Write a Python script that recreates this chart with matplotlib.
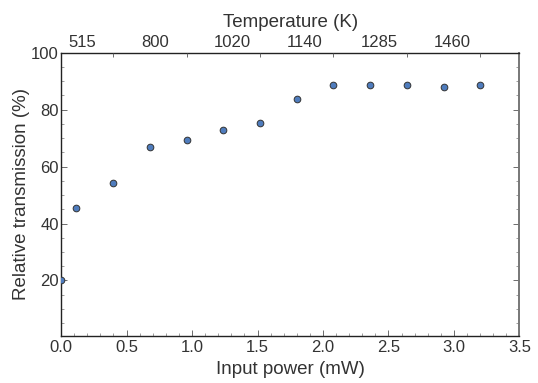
import matplotlib
matplotlib.use("Agg")
import matplotlib.pyplot as plt
from matplotlib.ticker import MultipleLocator, FixedLocator, NullFormatter

plt.rcParams['font.family'] = ['Liberation Sans', 'DejaVu Sans']

# Data
power_mw = [0.0, 0.115, 0.40, 0.68, 0.96, 1.24, 1.52, 1.80, 2.08, 2.36, 2.64, 2.92, 3.20]
transmission = [20.0, 45.4, 54.4, 67.0, 69.2, 73.0, 75.4, 83.8, 88.6, 88.7, 88.6, 88.1, 88.6]

temp_labels = ['515', '800', '1020', '1140', '1285', '1460']
temp_label_pos = [0.16, 0.72, 1.31, 1.86, 2.43, 2.99]
temp_tick_pos = [0.40, 0.96, 1.52, 2.08, 2.64, 3.20]

y_ticks = [20, 40, 60, 80, 100]
x_ticks = [0.0, 0.5, 1.0, 1.5, 2.0, 2.5, 3.0, 3.5]

txt = '#333333'
fig = plt.figure(figsize=(5.38, 3.83), dpi=100)
ax = fig.add_axes([0.1134, 0.1227, 0.8522, 0.7397])

ax.plot(power_mw, transmission, linestyle='none', marker='o', markersize=4.8,
        markerfacecolor='#4f7cbd', markeredgecolor='#333333', markeredgewidth=0.7,
        clip_on=True, zorder=3)

ax.set_xlim(0, 3.5)
ax.set_ylim(0.5, 100)
ax.set_xticks(x_ticks)
ax.set_xticklabels([f'{v:.1f}' for v in x_ticks])
ax.set_yticks(y_ticks)
ax.set_yticklabels([str(v) for v in y_ticks])
ax.xaxis.set_minor_locator(MultipleLocator(0.1))
ax.yaxis.set_minor_locator(MultipleLocator(5))
ax.tick_params(axis='both', which='major', direction='in', length=4, width=0.6,
               color='#555555', labelsize=12, labelcolor=txt, right=True)
ax.tick_params(axis='x', which='major', pad=3)
ax.tick_params(axis='y', which='major', pad=1.5)
ax.tick_params(axis='both', which='minor', direction='in', length=2, width=0.5,
               color='#777777', right=True)

for side in ['left', 'bottom', 'top']:
    ax.spines[side].set_color('#222222')
    ax.spines[side].set_linewidth(1.0)
ax.spines['right'].set_color('#777777')
ax.spines['right'].set_linewidth(1.4)

ax.set_xlabel('Input power (mW)', fontsize=13.5, color=txt, labelpad=4)
ax.set_ylabel('Relative transmission (%)', fontsize=13.5, color=txt, labelpad=1)

top = ax.twiny()
top.set_xlim(ax.get_xlim())
top.xaxis.set_major_locator(FixedLocator(temp_label_pos))
top.set_xticklabels(temp_labels)
top.xaxis.set_minor_locator(FixedLocator(temp_tick_pos))
top.xaxis.set_minor_formatter(NullFormatter())
top.tick_params(axis='x', which='major', length=0, pad=2, labelsize=12, labelcolor=txt)
top.tick_params(axis='x', which='minor', direction='in', length=3, width=0.6, color='#555555')
top.set_xlabel('Temperature (K)', fontsize=13.5, color=txt, labelpad=6)
for s in top.spines.values():
    s.set_visible(False)

fig.savefig('out.png', dpi=100)
